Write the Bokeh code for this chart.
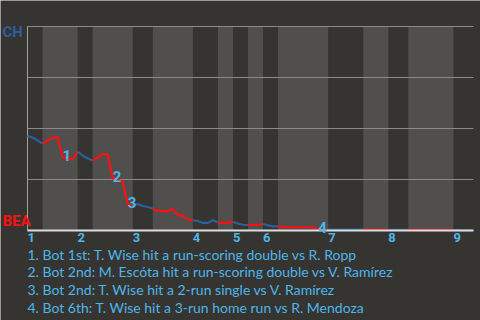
from bokeh.plotting import figure
from bokeh.models import Range1d, ColumnDataSource, LabelSet, Label
from bokeh.core.properties import value
from bokeh.embed import file_html
from bokeh.resources import INLINE

# ---- data ----
innings = ["1", "2", "3", "4", "5", "6", "7", "8", "9"]
# plate appearances per half inning (top 1, bot 1, top 2, ...)
half_pa = [3, 7, 3, 8, 4, 8, 5, 3, 3, 3, 3, 10, 7, 5, 4, 9, 4]
# CH (away) win probability after each plate appearance
win_prob = [
    0.464, 0.456, 0.441, 0.426,
    0.441, 0.454, 0.458, 0.360, 0.356, 0.348, 0.385,
    0.368, 0.354, 0.343,
    0.358, 0.375, 0.375, 0.255, 0.250, 0.238, 0.127, 0.123,
    0.130, 0.120, 0.115, 0.108,
    0.096, 0.095, 0.095, 0.105, 0.074, 0.074, 0.054, 0.049,
    0.047, 0.037, 0.037, 0.051, 0.039,
    0.037, 0.037, 0.042,
    0.034, 0.028, 0.027,
    0.027, 0.028, 0.032,
    0.025, 0.020, 0.020,
    0.016, 0.016, 0.016, 0.016, 0.016, 0.016, 0.016, 0.005, 0.005, 0.004,
    0.004, 0.004, 0.004, 0.004, 0.004, 0.004, 0.004,
    0.003, 0.003, 0.003, 0.003, 0.003,
    0.003, 0.003, 0.003, 0.003,
    0.002, 0.002, 0.002, 0.002, 0.002, 0.002, 0.002, 0.002, 0.002,
    0.002, 0.001, 0.001, 0.000,
]
grid_levels = [0.25, 0.5, 0.75, 1.0]
event_pa = [7, 17, 20, 58]
event_ids = ["1", "2", "3", "4"]
event_texts = [
    "1. Bot 1st: T. Wise hit a run-scoring double vs R. Ropp",
    "2. Bot 2nd: M. Escóta hit a run-scoring double vs V. Ramírez",
    "3. Bot 2nd: T. Wise hit a 2-run single vs V. Ramírez",
    "4. Bot 6th: T. Wise hit a 3-run home run vs R. Mendoza",
]
away_team, home_team = "CH", "BEA"

# ---- styling / layout ----
W, H = 480, 320
PL, PR, PT, PB = 27, 7, 26, 90        # plot box margins in pixels
BG = "#363430"
BAND = "#504f4d"
BLUE = "#2d5e9e"
RED = "#ff1010"
TXT = "#4db6ea"
FONT = "Lato"
BOLD_FONT = "Roboto"

starts = [0]
for n in half_pa:
    starts.append(starts[-1] + n)
total = starts[-1]
assert len(win_prob) == total + 1

# the frame covers the whole canvas; data box sits inside the margins
xpp = total / (W - PL - PR)
ypp = 1.0 / (H - PT - PB)
p = figure(width=W, height=H, output_backend="svg", toolbar_location=None,
           x_range=Range1d(-PL * xpp, total + PR * xpp),
           y_range=Range1d(-PB * ypp, 1 + PT * ypp),
           min_border=0)
p.axis.visible = False
p.grid.visible = False
p.background_fill_color = BG
p.border_fill_color = BG
p.outline_line_color = None

# bottom-half bands
bl = [starts[i] for i in range(1, len(half_pa), 2)]
br = [starts[i + 1] for i in range(1, len(half_pa), 2)]
p.quad(left=bl, right=br, bottom=0, top=1, fill_color=BAND, line_color=None)

# grid lines, left edge
p.segment(x0=0, x1=total, y0=grid_levels, y1=grid_levels, line_color="#8a8a8a", line_width=1)
p.segment(x0=0, x1=0, y0=0, y1=1, line_color="#a0a0a0", line_width=1)

# line segments coloured by half inning
xs, ys, cols = [], [], []
for h in range(len(half_pa)):
    s, e = starts[h], starts[h + 1]
    xs.append(list(range(s, e + 1)))
    ys.append(win_prob[s:e + 1])
    cols.append(BLUE if h % 2 == 0 else RED)
p.multi_line(xs=xs, ys=ys, line_color=cols, line_width=2.2)

# bottom axis line
p.segment(x0=0, x1=total, y0=0, y1=0, line_color="#dcdcdc", line_width=2)

# event markers
ev_src = ColumnDataSource(dict(x=event_pa, y=[win_prob[i] for i in event_pa], t=event_ids))
p.add_layout(LabelSet(x="x", y="y", text="t", source=ev_src, text_color=TXT,
                      text_font=value(BOLD_FONT), text_font_size="15px",
                      text_font_style="bold", text_align="left",
                      text_baseline="middle", y_offset=2))

# inning tick labels
inn_src = ColumnDataSource(dict(x=[starts[2 * i] for i in range(9)], t=innings))
p.add_layout(LabelSet(x="x", y=H - 237, y_units="screen", text="t", source=inn_src,
                      text_color=TXT, text_font=value(BOLD_FONT), text_font_size="13px",
                      text_font_style="bold", text_align="left", text_baseline="middle"))

# team labels
p.add_layout(Label(x=2, x_units="screen", y=H - 31.5, y_units="screen", text=away_team,
                   text_color=BLUE, text_font=BOLD_FONT, text_font_size="15px",
                   text_font_style="bold", text_baseline="middle", text_align="left"))
p.add_layout(Label(x=2, x_units="screen", y=H - 220.5, y_units="screen", text=home_team,
                   text_color=RED, text_font=BOLD_FONT, text_font_size="15px",
                   text_font_style="bold", text_baseline="middle", text_align="left"))

# event descriptions
for k, t in enumerate(event_texts):
    p.add_layout(Label(x=PL, x_units="screen", y=H - 253.8 - 17.6 * k, y_units="screen",
                       text=t, text_color=TXT, text_font=FONT, text_font_size="14px",
                       text_align="left", text_baseline="middle"))

open("out.html", "w").write(file_html(p, INLINE))
